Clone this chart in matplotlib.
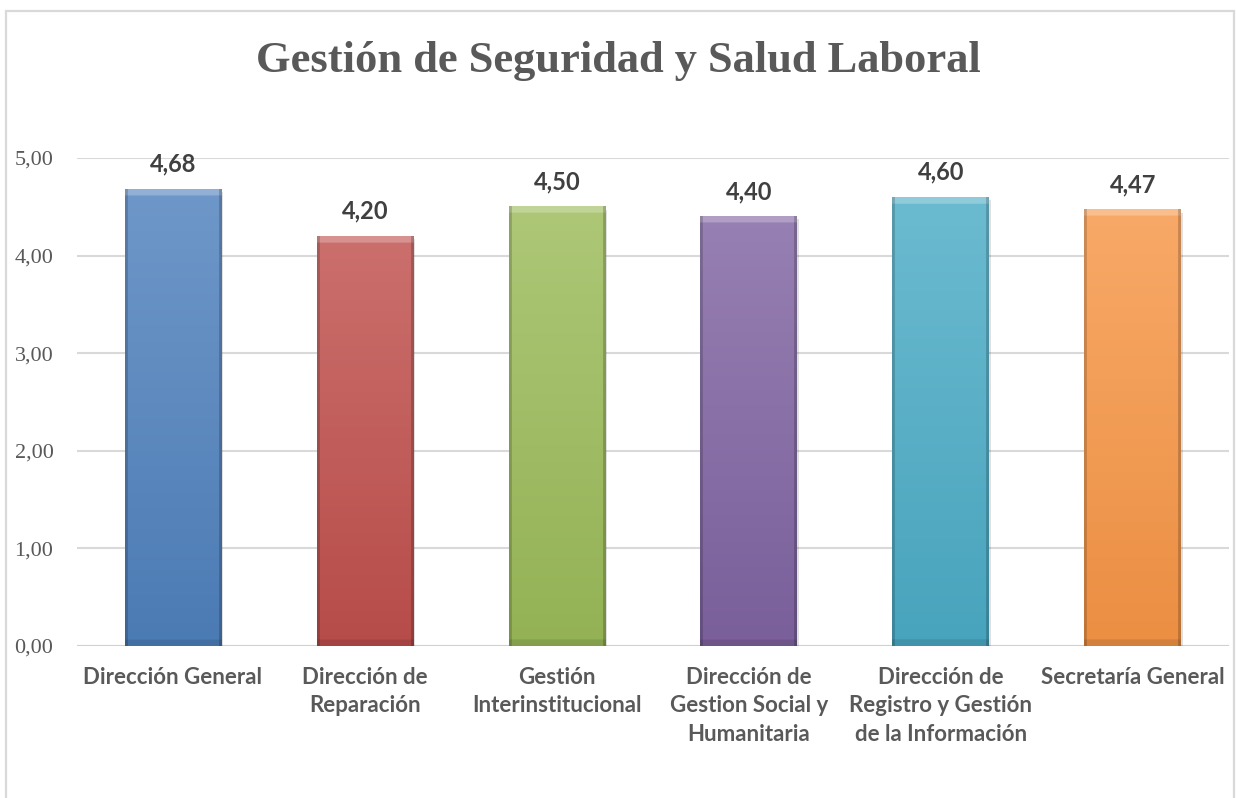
import numpy as np
import matplotlib
matplotlib.use('Agg')
import matplotlib.pyplot as plt
from matplotlib.colors import to_rgb
from matplotlib.patches import Rectangle

# Data
categories = ['Dirección General', 'Dirección de\nReparación', 'Gestión\nInterinstitucional',
              'Dirección de\nGestion Social y\nHumanitaria',
              'Dirección de\nRegistro y Gestión\nde la Información', 'Secretaría General']
values = [4.68, 4.20, 4.50, 4.40, 4.60, 4.47]
colors = ['#4F81BD', '#C0504D', '#9BBB59', '#8064A2', '#4BACC6', '#F79646']
yticks = [0, 1, 2, 3, 4, 5]

fig = plt.figure(figsize=(12.36, 7.98), dpi=100)
ax = fig.add_axes([0.0623, 0.1905, 0.932, 0.6115])

# chart frame
fig.patches.append(Rectangle((0.005, -0.05), 0.993, 0.036 + 1.0, transform=fig.transFigure,
                             fill=False, edgecolor='#d9d9d9', linewidth=1.6, zorder=0))

x = np.arange(len(categories))
bars = ax.bar(x, values, width=0.505, color='none', zorder=3)


def shade(c, f):
    c = np.array(to_rgb(c))
    if f >= 0:
        return c + (1 - c) * f
    return c * (1 + f)


for patch, c in zip(bars, colors):
    x0, w, h = patch.get_x(), patch.get_width(), patch.get_height()
    n, m = 1000, 100
    t = np.linspace(0, 1, n)[:, None, None]
    top, bot = shade(c, 0.18), shade(c, -0.05)
    img = top * (1 - t) + bot * t
    img = np.repeat(img, m, axis=1)
    # bevel: light top strip, darker sides and bottom
    strip = max(1, int(n * 0.07 / h))
    img[:strip] = shade(c, 0.38)
    img[:, :3] = img[:, :3] * 0.82
    img[:, -3:] = img[:, -3:] * 0.80
    img[-strip:] = img[-strip:] * 0.9
    img = np.clip(img, 0, 1)
    ax.imshow(img, extent=[x0, x0 + w, 0, h], aspect='auto', zorder=3, interpolation='bilinear')
    # soft shadow
    ax.add_patch(Rectangle((x0 + 0.01, -0.03), w, h, facecolor='#000000', alpha=0.12,
                           edgecolor='none', zorder=2))
    ax.text(x0 + w / 2, h + 0.18, f'{h:.2f}'.replace('.', ','), ha='center', va='baseline',
            fontsize=17, fontweight='bold', color='#404040', family='Lato')

ax.set_xlim(-0.5, len(categories) - 0.5)
ax.set_ylim(0, 5)
ax.set_yticks(yticks)
ax.set_yticklabels([f'{v:.2f}'.replace('.', ',') for v in yticks], family='Liberation Serif',
                   fontsize=16, color='#595959')
ax.set_xticks(x)
ax.set_xticklabels(categories, family='Lato', fontweight='bold', fontsize=16, color='#595959',
                   linespacing=1.45, va='top')
ax.tick_params(axis='both', length=0)
ax.tick_params(axis='y', pad=17)
ax.tick_params(axis='x', pad=15)
ax.grid(axis='y', color='#d9d9d9', linewidth=1.5, zorder=0)
ax.set_axisbelow(True)
for s in ax.spines.values():
    s.set_visible(False)
ax.axhline(0, color='#d0d0d0', linewidth=1.5, zorder=1)

fig.text(0.5, 0.91, 'Gestión de Seguridad y Salud Laboral', ha='center', va='baseline',
         family='Liberation Serif', fontweight='bold', fontsize=32, color='#595959')

fig.savefig('out.png', dpi=100)
